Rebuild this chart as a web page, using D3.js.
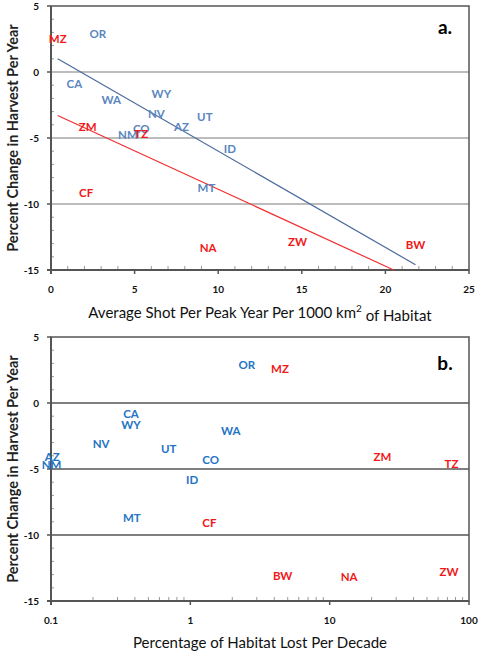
<!DOCTYPE html>
<html><head><meta charset="utf-8">
<script src="https://cdn.jsdelivr.net/npm/d3@7"></script>
<style>
html,body{margin:0;padding:0;background:#fff;}
svg{display:block;font-family:Lato,"Open Sans",sans-serif;}
</style></head>
<body>
<svg id="c" width="483" height="656"></svg>
<script>
// ---- data ----
const codes = ["OR","CA","WA","WY","NV","UT","AZ","CO","NM","ID","MT","MZ","ZM","TZ","CF","NA","ZW","BW"];
const groups = ["US","US","US","US","US","US","US","US","US","US","US","AF","AF","AF","AF","AF","AF","AF"];
const shotPerPeak = [2.8,1.4,3.6,6.6,6.3,9.2,7.8,5.4,4.6,10.7,9.3,0.4,2.2,5.4,2.1,9.4,14.75,21.8];
const changeA = [2.9,-0.9,-2.1,-1.7,-3.2,-3.4,-4.2,-4.3,-4.75,-5.8,-8.8,2.5,-4.2,-4.7,-9.2,-13.3,-12.9,-13.1];
const habitatLost = [2.54,0.375,1.95,0.375,0.229,0.7,0.102,1.4,0.101,1.03,0.38,4.4,23.9,74.8,1.37,13.8,72,4.6];
const changeB = [2.9,-0.86,-2.1,-1.67,-3.1,-3.5,-4.1,-4.3,-4.7,-5.8,-8.7,2.6,-4.1,-4.6,-9.1,-13.2,-12.8,-13.1];
const fitUS = [[0.4,1.0],[21.8,-14.6]];
const fitAF = [[0.4,-3.3],[20.5,-15.0]];
const yTicks = [5,0,-5,-10,-15];
const gridVals = [0,-5,-10];
const xTicksA = [0,5,10,15,20,25];
const xTicksB = [0.1,1,10,100];

const svg = d3.select("#c");
const L = 51, R = 469;
const red = "#f01818";

function panel(cfg){
  const g = svg.append("g");
  const x = cfg.x, y = cfg.y;
  g.selectAll(".grid").data(gridVals).join("line")
    .attr("x1",L).attr("x2",R).attr("y1",d=>y(d)).attr("y2",d=>y(d))
    .attr("stroke",cfg.gridColor).attr("stroke-width",1.3);
  const minorY = d3.range(-15,5.01,1).filter(v=>v%5!==0);
  g.selectAll(".my").data(minorY).join("line")
    .attr("x1",L).attr("x2",L+3).attr("y1",d=>y(d)).attr("y2",d=>y(d))
    .attr("stroke","#999").attr("stroke-width",1);
  g.selectAll(".mx").data(cfg.minorX).join("line")
    .attr("x1",d=>x(d)).attr("x2",d=>x(d)).attr("y1",y(-15)).attr("y2",y(-15)-4)
    .attr("stroke","#999").attr("stroke-width",1);
  g.append("rect").attr("x",L).attr("y",y(5)).attr("width",R-L).attr("height",y(-15)-y(5))
    .attr("fill","none").attr("stroke","#555").attr("stroke-width",1.5);
  g.append("line").attr("x1",L).attr("x2",L).attr("y1",y(5)).attr("y2",y(-15)+4)
    .attr("stroke","#555").attr("stroke-width",2);
  g.append("line").attr("x1",L-4).attr("x2",R).attr("y1",y(-15)).attr("y2",y(-15))
    .attr("stroke","#555").attr("stroke-width",2);
  g.selectAll(".ty").data(yTicks).join("line")
    .attr("x1",L-4).attr("x2",L).attr("y1",d=>y(d)).attr("y2",d=>y(d)).attr("stroke","#555").attr("stroke-width",1.5);
  g.selectAll(".tx").data(cfg.xTicks).join("line")
    .attr("x1",d=>x(d)).attr("x2",d=>x(d)).attr("y1",y(-15)).attr("y2",y(-15)+4).attr("stroke","#555").attr("stroke-width",1.5);
  g.selectAll(".ly").data(yTicks).join("text")
    .attr("x",39).attr("y",d=>y(d)).attr("dy","0.35em").attr("text-anchor","end")
    .attr("font-size",10).attr("font-weight","bold").attr("fill","#111").text(d=>d);
  g.selectAll(".lx").data(cfg.xTicks).join("text")
    .attr("x",d=>x(d)).attr("y",y(-15)+19).attr("dy","0.35em").attr("text-anchor","middle")
    .attr("font-size",10).attr("font-weight","bold").attr("fill","#111").text(cfg.xFmt);
  (cfg.fits||[]).forEach(f=>{
    g.append("line").attr("x1",x(f.pts[0][0])).attr("y1",y(f.pts[0][1]))
      .attr("x2",x(f.pts[1][0])).attr("y2",y(f.pts[1][1]))
      .attr("stroke",f.color).attr("stroke-width",1.2);
  });
  g.selectAll(".pt").data(codes.map((c,i)=>({c,i}))).join("text")
    .attr("x",d=>x(cfg.xs[d.i])).attr("y",d=>y(cfg.ys[d.i])).attr("dy","0.35em")
    .attr("text-anchor","middle").attr("font-size",11.5).attr("font-weight","bold")
    .attr("fill",d=>groups[d.i]==="US"?cfg.blue:red).text(d=>d.c);
  g.append("text").attr("x",445).attr("y",y(cfg.letterY)).attr("dy","0.35em").attr("text-anchor","middle")
    .attr("font-size",19).attr("font-weight","bold").attr("fill","#000").text(cfg.letter);
  const cy = (y(5)+y(-15))/2;
  g.append("text").attr("transform",`translate(13,${cy}) rotate(-90)`).attr("dy","0.35em")
    .attr("text-anchor","middle").attr("font-size",14.5).attr("font-weight","bold").attr("fill","#222")
    .text(cfg.yTitle);
  const xt = g.append("text").attr("x",(L+R)/2).attr("y",cfg.xTitleY).attr("dy","0.35em")
    .attr("text-anchor","middle").attr("font-size",15).attr("fill","#111");
  cfg.xTitle(xt);
}

const yA = d3.scaleLinear().domain([-15,5]).range([270,6]);
const xA = d3.scaleLinear().domain([0,25]).range([L,R]);
panel({
  x:xA, y:yA, xs:shotPerPeak, ys:changeA, xTicks:xTicksA, xFmt:d=>d,
  minorX:d3.range(0,25.01,1).filter(v=>v%5!==0),
  gridColor:"#a6a6a6", blue:"#5a86c0", letter:"a.", letterY:3.4,
  fits:[{pts:fitUS,color:"#4a6a9c"},{pts:fitAF,color:"#f03030"}],
  yTitle:"Percent Change in Harvest  Per Year", xTitleY:313,
  xTitle:t=>{t.append("tspan").text("Average Shot Per Peak Year Per 1000 km");
    t.append("tspan").attr("font-size",10).attr("dy","-0.6em").text("2");
    t.append("tspan").attr("dy","0.6em").text(" of Habitat");}
});

const yB = d3.scaleLinear().domain([-15,5]).range([601,337]);
const xB = d3.scaleLog().domain([0.1,100]).range([L,R]);
const minorB = [];
[0.1,1,10].forEach(b=>{for(let k=2;k<=9;k++) minorB.push(b*k);});
panel({
  x:xB, y:yB, xs:habitatLost, ys:changeB, xTicks:xTicksB, xFmt:d=>d,
  minorX:minorB, gridColor:"#555", blue:"#2474c4", letter:"b.", letterY:3.0,
  yTitle:"Percent Change in Harvest Per Year", xTitleY:643,
  xTitle:t=>t.text("Percentage of Habitat Lost Per Decade")
});
</script>
</body></html>
